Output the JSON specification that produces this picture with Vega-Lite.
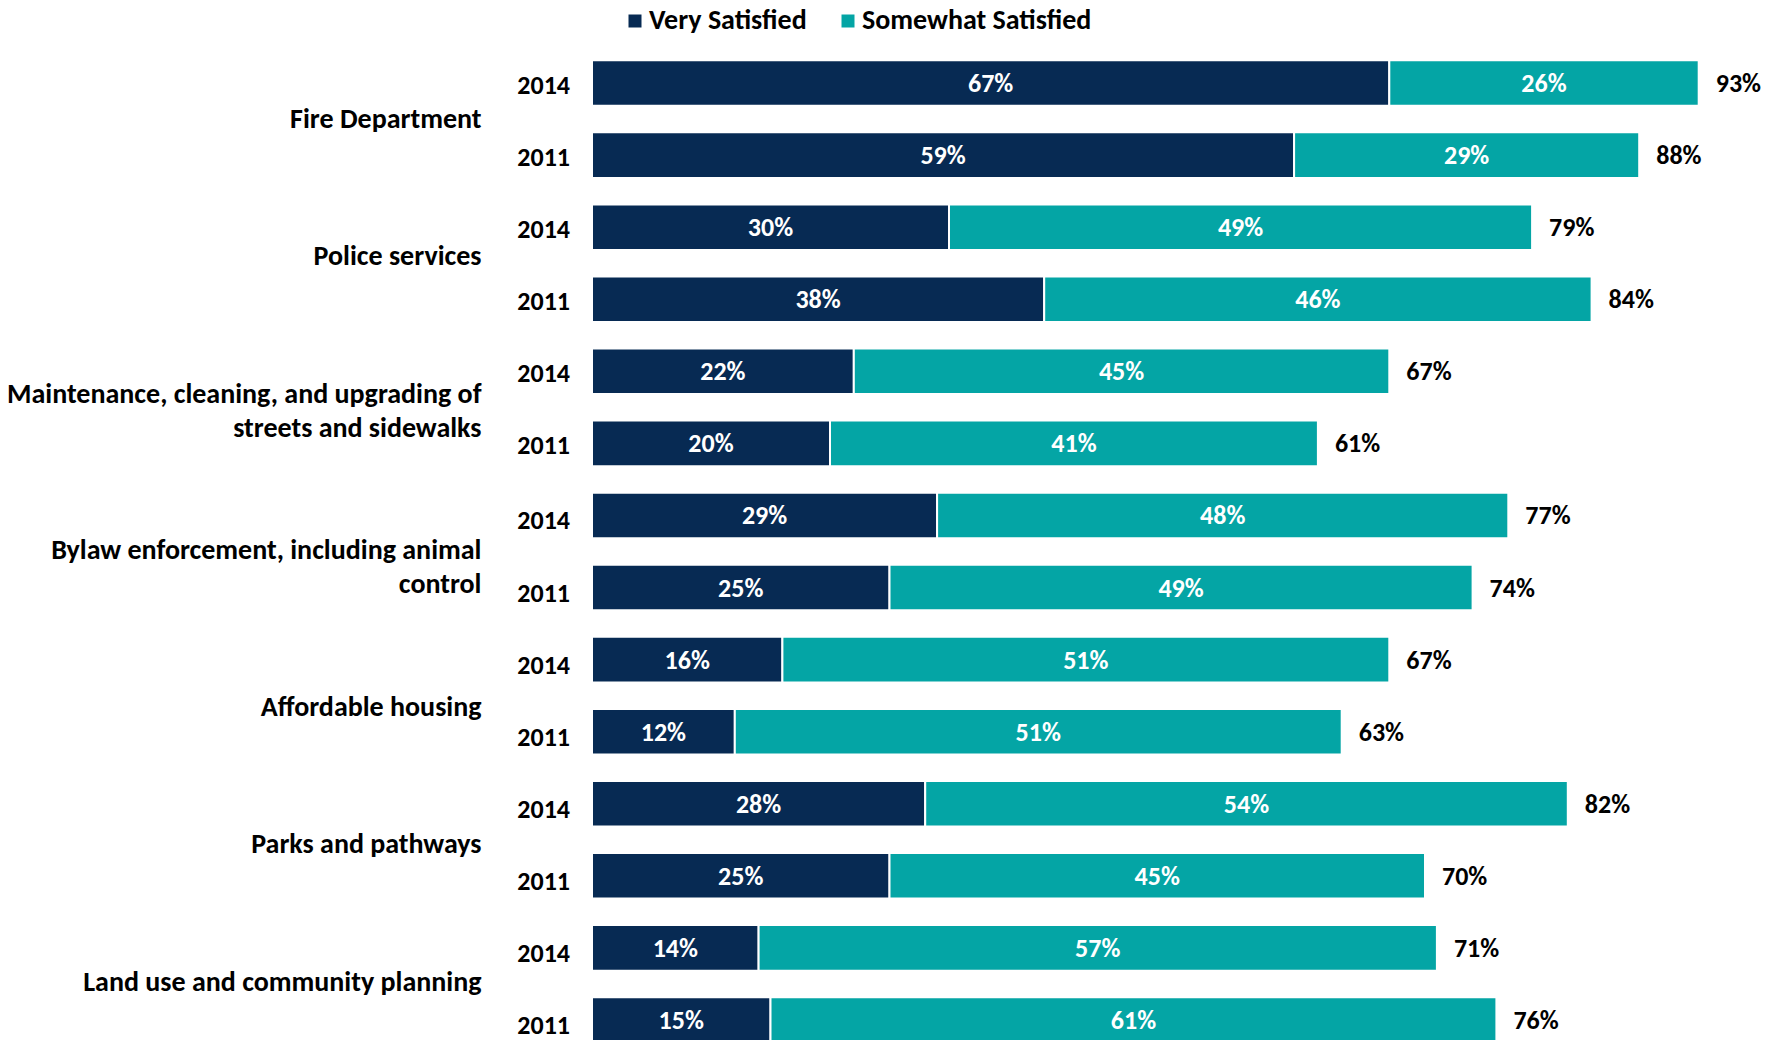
{
  "$schema": "https://vega.github.io/schema/vega-lite/v6.json",
  "autosize": {"type": "none"},
  "padding": {"left": 592, "top": 47, "right": 1, "bottom": 0},
  "width": 1190,
  "height": 993,
  "config": {
    "view": {"stroke": null},
    "font": "Carlito, Lato, sans-serif"
  },
  "datasets": {
    "parts": [
      {"category": "Fire Department", "year": "2014", "level": "Very Satisfied", "value": 0.67},
      {"category": "Fire Department", "year": "2014", "level": "Somewhat Satisfied", "value": 0.26},
      {"category": "Fire Department", "year": "2011", "level": "Very Satisfied", "value": 0.59},
      {"category": "Fire Department", "year": "2011", "level": "Somewhat Satisfied", "value": 0.29},
      {"category": "Police services", "year": "2014", "level": "Very Satisfied", "value": 0.30},
      {"category": "Police services", "year": "2014", "level": "Somewhat Satisfied", "value": 0.49},
      {"category": "Police services", "year": "2011", "level": "Very Satisfied", "value": 0.38},
      {"category": "Police services", "year": "2011", "level": "Somewhat Satisfied", "value": 0.46},
      {"category": "Maintenance, cleaning, and upgrading of streets and sidewalks", "year": "2014", "level": "Very Satisfied", "value": 0.22},
      {"category": "Maintenance, cleaning, and upgrading of streets and sidewalks", "year": "2014", "level": "Somewhat Satisfied", "value": 0.45},
      {"category": "Maintenance, cleaning, and upgrading of streets and sidewalks", "year": "2011", "level": "Very Satisfied", "value": 0.20},
      {"category": "Maintenance, cleaning, and upgrading of streets and sidewalks", "year": "2011", "level": "Somewhat Satisfied", "value": 0.41},
      {"category": "Bylaw enforcement, including animal control", "year": "2014", "level": "Very Satisfied", "value": 0.29},
      {"category": "Bylaw enforcement, including animal control", "year": "2014", "level": "Somewhat Satisfied", "value": 0.48},
      {"category": "Bylaw enforcement, including animal control", "year": "2011", "level": "Very Satisfied", "value": 0.25},
      {"category": "Bylaw enforcement, including animal control", "year": "2011", "level": "Somewhat Satisfied", "value": 0.49},
      {"category": "Affordable housing", "year": "2014", "level": "Very Satisfied", "value": 0.16},
      {"category": "Affordable housing", "year": "2014", "level": "Somewhat Satisfied", "value": 0.51},
      {"category": "Affordable housing", "year": "2011", "level": "Very Satisfied", "value": 0.12},
      {"category": "Affordable housing", "year": "2011", "level": "Somewhat Satisfied", "value": 0.51},
      {"category": "Parks and pathways", "year": "2014", "level": "Very Satisfied", "value": 0.28},
      {"category": "Parks and pathways", "year": "2014", "level": "Somewhat Satisfied", "value": 0.54},
      {"category": "Parks and pathways", "year": "2011", "level": "Very Satisfied", "value": 0.25},
      {"category": "Parks and pathways", "year": "2011", "level": "Somewhat Satisfied", "value": 0.45},
      {"category": "Land use and community planning", "year": "2014", "level": "Very Satisfied", "value": 0.14},
      {"category": "Land use and community planning", "year": "2014", "level": "Somewhat Satisfied", "value": 0.57},
      {"category": "Land use and community planning", "year": "2011", "level": "Very Satisfied", "value": 0.15},
      {"category": "Land use and community planning", "year": "2011", "level": "Somewhat Satisfied", "value": 0.61}
    ],
    "totals": [
      {"category": "Fire Department", "year": "2014", "total": 0.93},
      {"category": "Fire Department", "year": "2011", "total": 0.88},
      {"category": "Police services", "year": "2014", "total": 0.79},
      {"category": "Police services", "year": "2011", "total": 0.84},
      {"category": "Maintenance, cleaning, and upgrading of streets and sidewalks", "year": "2014", "total": 0.67},
      {"category": "Maintenance, cleaning, and upgrading of streets and sidewalks", "year": "2011", "total": 0.61},
      {"category": "Bylaw enforcement, including animal control", "year": "2014", "total": 0.77},
      {"category": "Bylaw enforcement, including animal control", "year": "2011", "total": 0.74},
      {"category": "Affordable housing", "year": "2014", "total": 0.67},
      {"category": "Affordable housing", "year": "2011", "total": 0.63},
      {"category": "Parks and pathways", "year": "2014", "total": 0.82},
      {"category": "Parks and pathways", "year": "2011", "total": 0.70},
      {"category": "Land use and community planning", "year": "2014", "total": 0.71},
      {"category": "Land use and community planning", "year": "2011", "total": 0.76}
    ]
  },
  "encoding": {
    "y": {
      "field": "category",
      "type": "nominal",
      "scale": {
        "domain": ["Fire Department", "Police services", "Maintenance, cleaning, and upgrading of streets and sidewalks", "Bylaw enforcement, including animal control", "Affordable housing", "Parks and pathways", "Land use and community planning"],
        "range": [0, 1009],
        "paddingInner": 0,
        "paddingOuter": 0
      },
      "axis": {
        "title": null,
        "ticks": false,
        "domain": false,
        "grid": false,
        "labelPadding": 111,
        "labelFontSize": 28,
        "labelFontWeight": "bold",
        "labelColor": "#000000",
        "labelAlign": "right",
        "labelBaseline": "middle",
        "labelLimit": 0,
        "labelLineHeight": 34,
        "labelOffset": {
          "condition": [
            {"test": "datum.value == 'Fire Department'", "value": 1},
            {"test": "datum.value == 'Police services'", "value": -6},
            {"test": "datum.value == 'Maintenance, cleaning, and upgrading of streets and sidewalks'", "value": -12},
            {"test": "datum.value == 'Bylaw enforcement, including animal control'", "value": -1},
            {"test": "datum.value == 'Affordable housing'", "value": 12},
            {"test": "datum.value == 'Parks and pathways'", "value": 5},
            {"test": "datum.value == 'Land use and community planning'", "value": -1}
          ],
          "value": 0
        },
        "labelExpr": "datum.value == 'Maintenance, cleaning, and upgrading of streets and sidewalks' ? ['Maintenance, cleaning, and upgrading of', 'streets and sidewalks'] : datum.value == 'Bylaw enforcement, including animal control' ? ['Bylaw enforcement, including animal', 'control'] : datum.value"
      }
    },
    "yOffset": {
      "field": "year",
      "type": "nominal",
      "scale": {"domain": ["2014", "2011"], "paddingInner": 0.368, "paddingOuter": 0.184}
    }
  },
  "layer": [
    {
      "data": {"name": "parts"},
      "mark": {"type": "bar", "stroke": "#ffffff", "strokeWidth": 2},
      "encoding": {
        "x": {"field": "value", "type": "quantitative", "stack": "zero", "scale": {"domain": [0, 1], "nice": false}, "axis": null},
        "color": {
          "field": "level",
          "type": "nominal",
          "scale": {"domain": ["Very Satisfied", "Somewhat Satisfied"], "range": ["#072A53", "#04A5A5"]},
          "legend": {
            "title": null,
            "orient": "none",
            "direction": "horizontal",
            "legendX": 29,
            "legendY": -40,
            "padding": 0,
            "symbolType": "square",
            "symbolSize": 169,
            "symbolStrokeWidth": 0,
            "labelFontSize": 28,
            "labelFontWeight": "bold",
            "labelColor": "#000000",
            "labelOffset": 0,
            "columnPadding": 27,
            "labelLimit": 0
          }
        },
        "order": {"field": "level", "sort": "descending"}
      }
    },
    {
      "data": {"name": "parts"},
      "mark": {"type": "text", "color": "#ffffff", "fontSize": 26, "fontWeight": "bold", "align": "center", "baseline": "middle", "dy": 1},
      "encoding": {
        "x": {"field": "value", "type": "quantitative", "stack": "zero", "bandPosition": 0.5},
        "detail": {"field": "level"},
        "order": {"field": "level", "sort": "descending"},
        "text": {"field": "value", "type": "quantitative", "format": ".0%"}
      }
    },
    {
      "data": {"name": "totals"},
      "mark": {"type": "text", "color": "#000000", "fontSize": 26, "fontWeight": "bold", "align": "left", "baseline": "middle", "dx": 17, "dy": 1},
      "encoding": {
        "x": {"field": "total", "type": "quantitative"},
        "text": {"field": "total", "type": "quantitative", "format": ".0%"}
      }
    },
    {
      "data": {"name": "totals"},
      "transform": [{"filter": {"field": "category", "oneOf": ["Fire Department", "Police services", "Maintenance, cleaning, and upgrading of streets and sidewalks"]}}],
      "mark": {"type": "text", "color": "#000000", "fontSize": 26, "fontWeight": "bold", "align": "right", "baseline": "middle", "dx": -22, "dy": 3},
      "encoding": {
        "x": {"datum": 0, "type": "quantitative"},
        "text": {"field": "year", "type": "nominal"}
      }
    },
    {
      "data": {"name": "totals"},
      "transform": [{"filter": {"field": "category", "oneOf": ["Bylaw enforcement, including animal control", "Affordable housing", "Parks and pathways", "Land use and community planning"]}}],
      "mark": {"type": "text", "color": "#000000", "fontSize": 26, "fontWeight": "bold", "align": "right", "baseline": "middle", "dx": -22, "dy": 6},
      "encoding": {
        "x": {"datum": 0, "type": "quantitative"},
        "text": {"field": "year", "type": "nominal"}
      }
    }
  ]
}
